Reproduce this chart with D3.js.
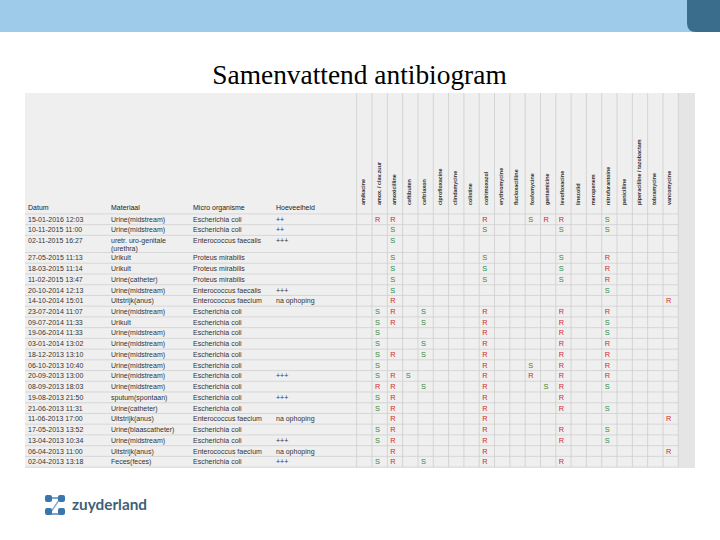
<!DOCTYPE html>
<html><head><meta charset="utf-8">
<script src="https://cdn.jsdelivr.net/npm/d3@7"></script>
<style>body{margin:0;background:#fff}svg{display:block}</style>
</head><body>
<svg id="c" width="720" height="540"></svg>
<script>
const title = "Samenvattend antibiogram";
const antibiotics = ["amikacine","amox. / clav.zuur","amoxicilline","ceftibuten","ceftriaxon","ciprofloxacine","clindamycine","colistine","cotrimoxazol","erythromycine","flucloxacilline","fosfomycine","gentamicine","levofloxacine","linezolid","meropenem","nitrofurantoine","penicilline","piperacilline / tazobactam","tobramycine","vancomycine"];
const headerLabels = ["Datum","Materiaal","Micro organisme","Hoeveelheid"];
const dates = ["15-01-2016 12:03","10-11-2015 11:00","02-11-2015 16:27","27-05-2015 11:13","18-03-2015 11:14","11-02-2015 13:47","20-10-2014 12:13","14-10-2014 15:01","23-07-2014 11:07","09-07-2014 11:33","19-06-2014 11:33","03-01-2014 13:02","18-12-2013 13:10","06-10-2013 10:40","20-09-2013 13:00","08-09-2013 18:03","19-08-2013 21:50","21-06-2013 11:31","11-06-2013 17:00","17-05-2013 13:52","13-04-2013 10:34","06-04-2013 11:00","02-04-2013 13:18"];
const materials = [["Urine(midstream)"],["Urine(midstream)"],["uretr. uro-genitale","(urethra)"],["Urikult"],["Urikult"],["Urine(catheter)"],["Urine(midstream)"],["Uitstrijk(anus)"],["Urine(midstream)"],["Urikult"],["Urine(midstream)"],["Urine(midstream)"],["Urine(midstream)"],["Urine(midstream)"],["Urine(midstream)"],["Urine(midstream)"],["sputum(spontaan)"],["Urine(catheter)"],["Uitstrijk(anus)"],["Urine(blaascatheter)"],["Urine(midstream)"],["Uitstrijk(anus)"],["Feces(feces)"]];
const organisms = ["Escherichia coli","Escherichia coli","Enterococcus faecalis","Proteus mirabilis","Proteus mirabilis","Proteus mirabilis","Enterococcus faecalis","Enterococcus faecium","Escherichia coli","Escherichia coli","Escherichia coli","Escherichia coli","Escherichia coli","Escherichia coli","Escherichia coli","Escherichia coli","Escherichia coli","Escherichia coli","Enterococcus faecium","Escherichia coli","Escherichia coli","Enterococcus faecium","Escherichia coli"];
const amounts = ["++","++","+++","","","","+++","na ophoping","","","","","","","+++","","+++","","na ophoping","","+++","na ophoping","+++"];
// one character per antibiotic column: R = resistent, S = gevoelig, - = niet getest
const results = [
 "-RR-----R--SRR--S----",
 "--S-----S----S--S----",
 "--S------------------",
 "--S-----S----S--R----",
 "--S-----S----S--R----",
 "--S-----S----S--R----",
 "--S-------------S----",
 "--R-----------------R",
 "-SR-S---R----R--R----",
 "-SR-S---R----R--S----",
 "-S------R----R--S----",
 "-S--S---R----R--R----",
 "-SR-S---R----R--R----",
 "-S------R--S-R--R----",
 "-SRS----R--R-R--R----",
 "-RR-S---R---SR--S----",
 "-SR-----R----R-------",
 "-SR-----R----R--S----",
 "--R-----R-----------R",
 "-SR-----R----R--S----",
 "-SR-----R----R--S----",
 "--R-----R-----------R",
 "-SR-S---R----R-------"
];

const svg = d3.select("#c");
const FONT = "'Liberation Sans', Arial, sans-serif";

// top band
svg.append("rect").attr("x",0).attr("y",0).attr("width",720).attr("height",32).attr("fill","#9dcbe9");
svg.append("path").attr("d","M687,0 H720 V32 H696 Q687,32 687,23 Z").attr("fill","#3a6d8b");

// title
svg.append("text").attr("x",359.5).attr("y",84).attr("text-anchor","middle")
  .attr("font-family","'Liberation Serif','Times New Roman',serif").attr("font-size",27.4)
  .attr("fill","#000").text(title);

// table frame
const T = {left:25, top:93, right:695, bottom:468, gridRight:678.3, headBottom:213.9, bodyBottom:467.1};
svg.append("rect").attr("x",T.left).attr("y",T.top).attr("width",T.right-T.left).attr("height",T.bottom-T.top).attr("fill","#efefef");
svg.append("rect").attr("x",T.gridRight).attr("y",T.top).attr("width",T.right-T.gridRight).attr("height",T.bottom-T.top).attr("fill","#e5e5e5");

const x = d3.scaleBand().domain(antibiotics).range([356.7, T.gridRight]).padding(0);

// rows: unit heights
const rowUnits = materials.map(m => 1 + 0.6*(m.length-1));
const starts = []; let acc = 0;
rowUnits.forEach(u => { starts.push(acc); acc += u; });
const y = d3.scaleLinear().domain([0, acc]).range([T.headBottom, T.bodyBottom]);
const unitH = y(1) - y(0);

const g = svg.append("g");
// horizontal lines
const bounds = starts.concat([acc]);
g.selectAll("line.h").data(bounds).join("line")
  .attr("x1",T.left).attr("x2",T.gridRight)
  .attr("y1",d=>y(d)).attr("y2",d=>y(d))
  .attr("stroke","#d0d0d0").attr("stroke-width",0.8);
// vertical lines
const vx = antibiotics.map(a=>x(a)).concat([T.gridRight]);
g.selectAll("line.v").data(vx).join("line")
  .attr("x1",d=>d).attr("x2",d=>d).attr("y1",T.top).attr("y2",T.bodyBottom)
  .attr("stroke","#cdcdcd").attr("stroke-width",0.8);

// rotated antibiotic labels
g.selectAll("text.ab").data(antibiotics).join("text")
  .attr("transform",d=>`translate(${x(d)+8.5},205) rotate(-90)`)
  .attr("font-family",FONT).attr("font-size",5.4).attr("font-weight","bold")
  .attr("fill","#333").text(d=>d);

// header labels
const colX = [28, 111, 193, 276];
g.selectAll("text.hd").data(headerLabels).join("text")
  .attr("x",(d,i)=>colX[i]).attr("y",209.5)
  .attr("font-family",FONT).attr("font-size",7).attr("fill","#222").text(d=>d);

// body text
const rows = dates.map((d,i)=>({i, date:d, mat:materials[i], org:organisms[i], amt:amounts[i], res:results[i]}));
const rg = g.selectAll("g.row").data(rows).join("g").attr("transform",d=>`translate(0,${y(starts[d.i]) + unitH/2 + 2.5})`);
rg.append("text").attr("x",colX[0]).text(d=>d.date);
rg.append("text").attr("x",colX[1]).each(function(d){
  d3.select(this).selectAll("tspan").data(d.mat).join("tspan")
    .attr("x",colX[1]).attr("dy",(m,j)=>j===0?0:7.6).text(m=>m);
});
rg.append("text").attr("x",colX[2]).text(d=>d.org);
rg.append("text").attr("x",colX[3]).text(d=>d.amt);
rg.selectAll("text").attr("font-family",FONT).attr("font-size",7).attr("fill","#333");

rg.selectAll("text.cell").data(d=>d.res.split("").map((v,k)=>({v,ab:antibiotics[k]})).filter(c=>c.v!=="-"))
  .join("text").attr("class","cell")
  .attr("x",c=>x(c.ab)+3).attr("y",0)
  .attr("font-family",FONT).attr("font-size",7.4)
  .attr("fill",c=>c.v==="R"?"#d42a2a":"#2e8a3b").text(c=>c.v);

// logo
const logo = svg.append("g").attr("transform","translate(45,495)");
logo.append("path").attr("d","M3,2 H17 L6,18 H17 V20 H3 L14,4 H3 Z").attr("fill","#7aa7cf");
[[0,0],[13,0],[0,13],[13,13]].forEach(p=>{
  logo.append("rect").attr("x",p[0]).attr("y",p[1]).attr("width",7).attr("height",7).attr("rx",2).attr("fill","#3a76ad");
});
svg.append("text").attr("x",72).attr("y",510).attr("font-family","Lato, 'Open Sans', sans-serif")
  .attr("font-size",16).attr("font-weight","bold").attr("fill","#415f78")
  .attr("textLength",75).attr("lengthAdjust","spacingAndGlyphs").text("zuyderland");
</script>
</body></html>
